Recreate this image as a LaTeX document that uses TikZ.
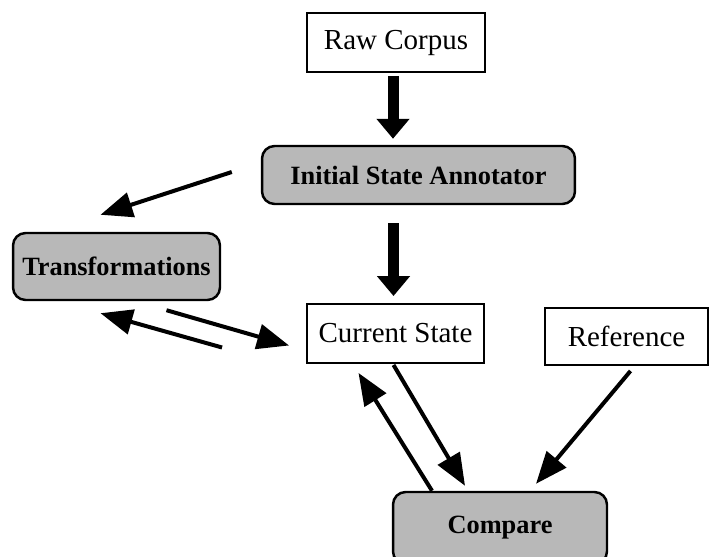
\documentclass[tikz,border=0pt]{standalone}
\usepackage{fontspec}
\setmainfont{Liberation Serif}
\usetikzlibrary{arrows.meta,calc}

\begin{document}
\begin{tikzpicture}[x=0.02cm,y=-0.02cm]

% Box and arrow styles
\tikzset{
    plainbox/.style={draw, line width=1.1pt, fill=white, inner sep=0pt,
        font=\fontsize{16.5}{19}\selectfont},
    roundbox/.style={draw, line width=1.4pt, rounded corners=0.25cm,
        fill=black!28, inner sep=0pt,
        font=\fontsize{15}{17}\selectfont\bfseries},
    bigarrow/.style={line width=0.22cm, -{Triangle[length=0.4cm,width=0.64cm]}},
    thinarrow/.style={line width=0.08cm, -{Triangle[length=0.64cm,width=0.5cm]}},
}
\useasboundingbox (0,0) rectangle (709,557);

% Plain boxes
\node[plainbox, minimum width=3.56cm, minimum height=1.18cm] (raw) at (396,42.5) {Raw Corpus};
\node[plainbox, minimum width=3.54cm, minimum height=1.18cm] (cur) at (395.5,333.5) {Current State};
\node[plainbox, minimum width=3.26cm, minimum height=1.14cm] (ref) at (626.5,336.5) {Reference};

% Grey boxes
\node[roundbox, minimum width=6.26cm, minimum height=1.16cm] (init) at (418.5,175) {Initial State Annotator};
\node[roundbox, minimum width=4.14cm, minimum height=1.34cm] (trans) at (116.5,266.5) {Transformations};
\node[roundbox, minimum width=4.28cm, minimum height=1.44cm] (cmp) at (500,528) {Compare};

% Thick arrows
\draw[bigarrow] ($(raw.south)+(-3,3)$) -- ($(raw.south |- init.north)+(-3,-6)$);
\draw[bigarrow] ($(init.south -| cur.north)+(-2,18)$) -- ($(cur.north)+(-2,-7)$);

% Thin arrows
\draw[thinarrow] ($(init.west)+(-29,-3)$) -- ($(trans.north)+(-16,-17)$);
\draw[thinarrow] ($(trans.south)+(50,9)$) -- ($(cur.west)+(-17,12)$);
\draw[thinarrow] ($(cur.west)+(-84,14)$) -- ($(trans.south)+(-16,12)$);
\draw[thinarrow] ($(cur.south)+(-2,1)$) -- ($(cmp.north)+(-35,-5)$);
\draw[thinarrow] ($(cmp.north)+(-68,0)$) -- ($(cur.south)+(-37,9)$);
\draw[thinarrow] ($(ref.south)+(4,5)$) -- ($(cmp.north)+(36,-7)$);
\end{tikzpicture}
\end{document}
